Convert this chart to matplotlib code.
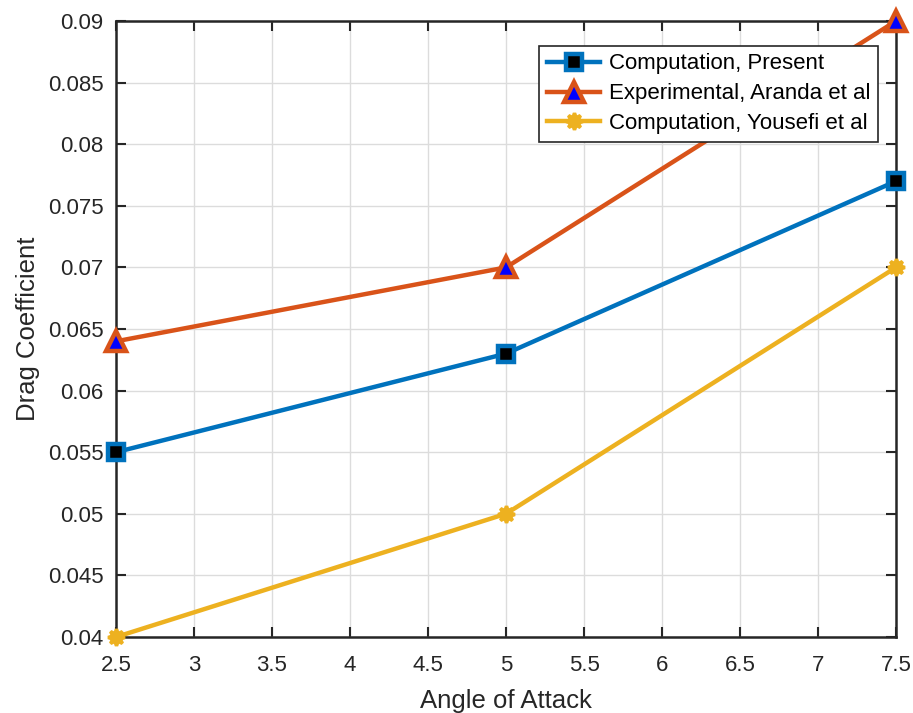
import matplotlib
matplotlib.use("Agg")
import matplotlib.pyplot as plt

plt.rcParams['font.family'] = ['Liberation Sans', 'DejaVu Sans']

angles = [2.5, 5, 7.5]
present = [0.055, 0.063, 0.077]
aranda = [0.064, 0.070, 0.090]
yousefi = [0.040, 0.050, 0.070]

labels = ["Computation, Present", "Experimental, Aranda et al", "Computation, Yousefi et al"]
xticks = [2.5, 3, 3.5, 4, 4.5, 5, 5.5, 6, 6.5, 7, 7.5]
yticks = [0.04, 0.045, 0.05, 0.055, 0.06, 0.065, 0.07, 0.075, 0.08, 0.085, 0.09]

fig = plt.figure(figsize=(9.13, 7.13), dpi=100)
ax = fig.add_axes([116/913, 1-637/713, (896-116)/913, (637-21)/713])

blue = '#0072BD'
orange = '#D95319'
yellow = '#EDB120'

ax.plot(angles, present, color=blue, lw=3.2, marker='s', ms=11, mfc='black', mec=blue, mew=3.2,
        label=labels[0], clip_on=False, zorder=3)
ax.plot(angles, aranda, color=orange, lw=3.2, marker='^', ms=15, mfc='blue', mec=orange, mew=3.2,
        label=labels[1], clip_on=False, zorder=3)
ax.plot(angles, yousefi, color=yellow, lw=3.2, marker=(8, 1, 0), ms=12, mfc=yellow, mec=yellow, mew=2.5,
        label=labels[2], clip_on=False, zorder=3)

ax.set_xlim(2.5, 7.5)
ax.set_ylim(0.04, 0.09)
ax.set_xticks(xticks)
ax.set_xticklabels([f"{v:g}" for v in xticks])
ax.set_yticks(yticks)
ax.set_yticklabels([f"{v:g}" for v in yticks])
ax.grid(True, color='#DCDCDC', lw=1)
ax.set_axisbelow(True)
ax.tick_params(direction='in', length=7, width=1.5, labelsize=16, colors='#262626',
               top=True, right=True)
ax.tick_params(axis='x', pad=13)
ax.tick_params(axis='y', pad=9)
for s in ax.spines.values():
    s.set_linewidth(1.8)
    s.set_color('#262626')
ax.set_xlabel('Angle of Attack', fontsize=18.5, color='#262626', labelpad=9)
ax.set_ylabel('Drag Coefficient', fontsize=18.5, color='#262626', labelpad=6)

leg = ax.legend(loc='upper right', bbox_to_anchor=(0.9775, 0.96), fontsize=16, fancybox=False,
                framealpha=1, edgecolor='#262626', handlelength=2.4, borderpad=0.35,
                labelspacing=0.4, handletextpad=0.4, borderaxespad=0)
leg.get_frame().set_linewidth(1.2)

fig.savefig('out.png', dpi=100)
